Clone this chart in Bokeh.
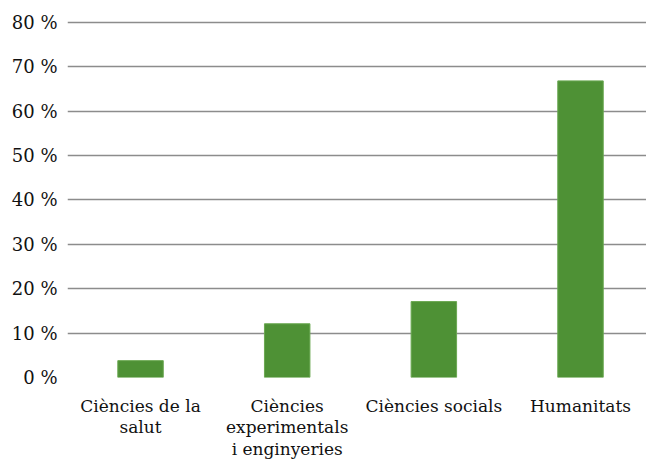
from bokeh.plotting import figure
from bokeh.models import Range1d, FixedTicker, ColumnDataSource
from bokeh.embed import file_html
from bokeh.resources import INLINE

categories = ["Ciències de la\nsalut", "Ciències\nexperimentals\ni enginyeries", "Ciències socials", "Humanitats"]
values = [3.8, 12.1, 17.1, 66.8]
y_ticks = [0, 10, 20, 30, 40, 50, 60, 70, 80]
y_labels = {t: f"{t} %" for t in y_ticks}

pos = list(range(len(categories)))
src = ColumnDataSource(dict(x=pos, top=values))

p = figure(width=646, height=463, output_backend="svg", toolbar_location=None,
           x_range=Range1d(-0.498, 3.45), y_range=Range1d(0, 80.4))
p.min_border_left = 67
p.min_border_top = 20
p.min_border_right = 0
p.min_border_bottom = 86
p.outline_line_color = None
p.background_fill_color = "white"
p.border_fill_color = "white"

p.vbar(x="x", top="top", width=0.31, bottom=0, source=src,
       fill_color="#4E9135", line_color="#6BA852", line_width=1)

font = "DejaVu Serif"
p.yaxis.ticker = FixedTicker(ticks=y_ticks)
p.yaxis.major_label_overrides = y_labels
p.yaxis.axis_line_color = None
p.yaxis.major_tick_line_color = None
p.yaxis.minor_tick_line_color = None
p.yaxis.major_label_text_font = font
p.yaxis.major_label_text_font_size = "18px"
p.yaxis.major_label_text_color = "#111111"
p.yaxis.major_label_standoff = 4

p.xaxis.ticker = FixedTicker(ticks=pos)
p.xaxis.major_label_overrides = {i: c for i, c in enumerate(categories)}
p.xaxis.axis_line_color = None
p.xaxis.major_tick_line_color = None
p.xaxis.minor_tick_line_color = None
p.xaxis.major_label_text_font = font
p.xaxis.major_label_text_font_size = "17px"
p.xaxis.major_label_text_color = "#111111"
p.xaxis.major_label_standoff = 12
p.xaxis.major_label_text_line_height = 1.08

p.xgrid.grid_line_color = None
p.ygrid.ticker = FixedTicker(ticks=y_ticks)
p.ygrid.grid_line_color = "#8c8c8c"
p.ygrid.grid_line_width = 1.3
p.ygrid.level = "underlay"

open("out.html", "w").write(file_html(p, INLINE))
